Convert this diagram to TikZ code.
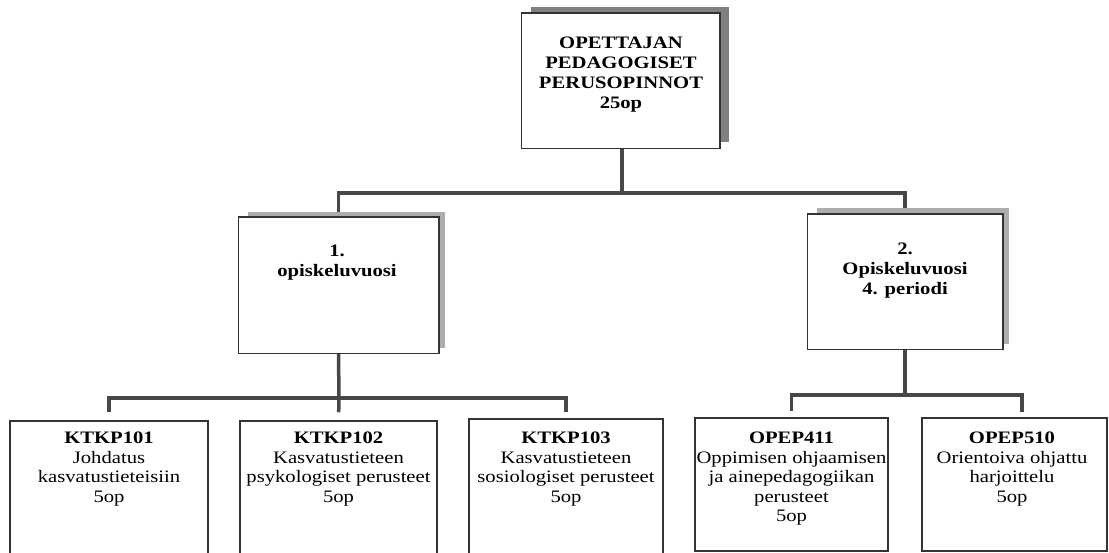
\documentclass[tikz,border=0pt]{standalone}
\usepackage{fontspec}
\setmainfont[FakeStretch=1.18]{Liberation Serif}
\usetikzlibrary{calc}

\tikzset{
  boxln/.style={draw=black!80, line width=1.5pt, fill=white, inner sep=0pt},
  shadowbox/.style={fill=black!#1, draw=none},
  conn/.style={draw=black!72, line width=3.5pt},
  lbl/.style={inner sep=0pt, align=center, anchor=north,
    font=\fontsize{17.5}{19.5}\selectfont},
  lblb/.style={inner sep=0pt, align=center, anchor=north,
    font=\fontsize{17.5}{20}\selectfont\bfseries},
}

\begin{document}
\begin{tikzpicture}[x=1pt,y=-1pt]
\useasboundingbox (0,0) rectangle (1109,553);
\clip (0,0) rectangle (1109,553);
\fill[white] (0,0) rectangle (1109,553);

% junction points of the connector bars
\coordinate (j1) at (622,193);
\coordinate (j2) at (339,398);
\coordinate (j3) at (905,395);
\coordinate (d5) at (1022,412);

% boxes (placed first so the connectors can refer to them)
\node[boxln, minimum width=197pt, minimum height=134pt] (top) at (620.5,81) {};
\node[boxln, minimum width=199pt, minimum height=135pt] (m1) at (338.5,285.5) {};
\node[boxln, minimum width=194pt, minimum height=134pt] (m2) at (905,282) {};
\node[boxln, minimum width=198pt, minimum height=139pt] (b1) at (109,490.5) {};
\node[boxln, minimum width=197pt, minimum height=139pt] (b2) at (338.5,490.5) {};
\node[boxln, minimum width=194pt, minimum height=141pt] (b3) at (566,489.5) {};
\node[boxln, minimum width=193pt, minimum height=133pt] (b4) at (791.5,484.5) {};
\node[boxln, minimum width=185pt, minimum height=133pt] (b5) at (1014.5,484.5) {};

% connectors
\draw[conn] (top.south -| j1) -- (j1);
\draw[conn] (m1.north) -- (m1.north |- j1) -- (m2.north |- j1) -- (m2.north);
\draw[conn] (m1.south) -- (j2);
\draw[conn, shorten <=8pt, shorten >=6pt] (b1.north) -- (b1.north |- j2) -- (b3.north |- j2) -- (b3.north);
\draw[conn, shorten >=8pt] (j2) -- (b2.north);
\draw[conn] (m2.south) -- (j3);
\draw[conn, shorten <=6pt] (b4.north) -- (b4.north |- j3) -- (d5 |- j3) -- (d5);

% raised shadows behind the upper boxes, then the boxes redrawn on top
\fill[shadowbox=50] ($(top.north west)+(10,-6)$) rectangle ($(top.south east)+(9,-7)$);
\fill[shadowbox=32] ($(m1.north west)+(10,-5)$) rectangle ($(m1.south east)+(6,-6)$);
\fill[shadowbox=32] ($(m2.north west)+(10,-6)$) rectangle ($(m2.south east)+(6,-6)$);
\foreach \b in {top,m1,m2}{
  \draw[boxln] (\b.north west) rectangle (\b.south east);
}

% texts
\node[lblb] (ttop) at (621,37) {OPETTAJAN\\PEDAGOGISET\\PERUSOPINNOT\\25op};
\node[lblb] (tm1) at (337,245) {1.\\opiskeluvuosi};
\node[lblb] (tm2) at (905,243) {2.\\Opiskeluvuosi\\4. periodi};

\node[lbl] (tb1) at (109,432) {\textbf{KTKP101}\\Johdatus\\kasvatustieteisiin\\5op};
\node[lbl] (tb2) at (338.5,432) {\textbf{KTKP102}\\Kasvatustieteen\\psykologiset perusteet\\5op};
\node[lbl] (tb3) at (566,432) {\textbf{KTKP103}\\Kasvatustieteen\\sosiologiset perusteet\\5op};
\node[lbl] (tb4) at (791.5,432) {\textbf{OPEP411}\\Oppimisen ohjaamisen\\ja ainepedagogiikan\\perusteet\\5op};
\node[lbl] (tb5) at (1012,432) {\textbf{OPEP510}\\Orientoiva ohjattu\\harjoittelu\\5op};
\end{tikzpicture}
\end{document}
